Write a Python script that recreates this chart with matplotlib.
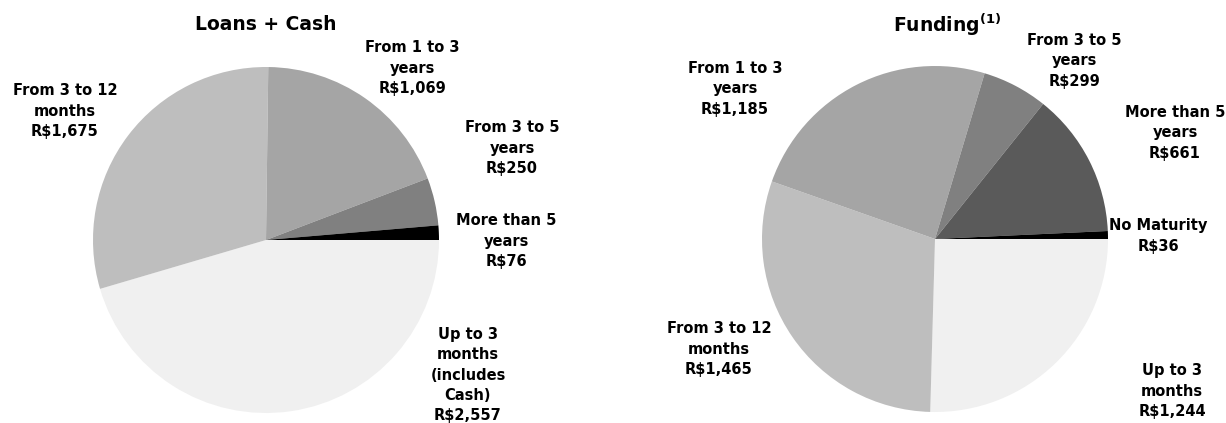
import matplotlib.pyplot as plt

# maturity buckets, clockwise from 3 o'clock
loans_labels = ['Up to 3\nmonths\n(includes\nCash)\nR$2,557', 'From 3 to 12\nmonths\nR$1,675',
                'From 1 to 3\nyears\nR$1,069', 'From 3 to 5\nyears\nR$250', 'More than 5\nyears\nR$76']
loans_values = [2557, 1675, 1069, 250, 76]

funding_labels = ['Up to 3\nmonths\nR$1,244', 'From 3 to 12\nmonths\nR$1,465', 'From 1 to 3\nyears\nR$1,185',
                  'From 3 to 5\nyears\nR$299', 'More than 5\nyears\nR$661', 'No Maturity\nR$36']
funding_values = [1244, 1465, 1185, 299, 661, 36]

loans_colors = ['#f0f0f0', '#bebebe', '#a5a5a5', '#808080', '#000000']
funding_colors = ['#f0f0f0', '#bebebe', '#a5a5a5', '#808080', '#5a5a5a', '#000000']

# label centres in pixels (x, y from top)
loans_label_px = [(468, 375), (65, 111), (412, 68), (512, 148), (506, 241)]
funding_label_px = [(1172, 391), (719, 349), (735, 89), (1074, 61), (1175, 133), (1158, 236)]

plt.rcParams['font.family'] = 'DejaVu Sans'
plt.rcParams['font.stretch'] = 'normal'

W, H = 1226, 423
fig = plt.figure(figsize=(W / 100, H / 100), dpi=100)


def draw_pie(cx, cy, r, values, colors, labels, label_px, title, title_x):
    ax = fig.add_axes([(cx - r) / W, (H - cy - r) / H, 2 * r / W, 2 * r / H])
    ax.pie(values, colors=colors, startangle=0, counterclock=False, radius=1,
           wedgeprops=dict(linewidth=0))
    ax.set_xlim(-1, 1)
    ax.set_ylim(-1, 1)
    ax.set_aspect('auto')
    ax.axis('off')
    for lab, (px, py) in zip(labels, label_px):
        fig.text(px / W, 1 - py / H, lab, ha='center', va='center', fontsize=10.5,
                 fontweight='bold', fontstretch='normal', linespacing=1.42, color='black')
    fig.text(title_x / W, 1 - 25 / H, title, ha='center', va='center',
             fontsize=13.5, fontweight='bold', fontstretch='normal', color='black')


draw_pie(266, 240, 173, loans_values, loans_colors, loans_labels, loans_label_px,
         'Loans + Cash', 266)
draw_pie(935, 239, 173, funding_values, funding_colors, funding_labels, funding_label_px,
         r'Funding$^{\mathbf{(1)}}$', 947)

fig.savefig('out.png', dpi=100)
